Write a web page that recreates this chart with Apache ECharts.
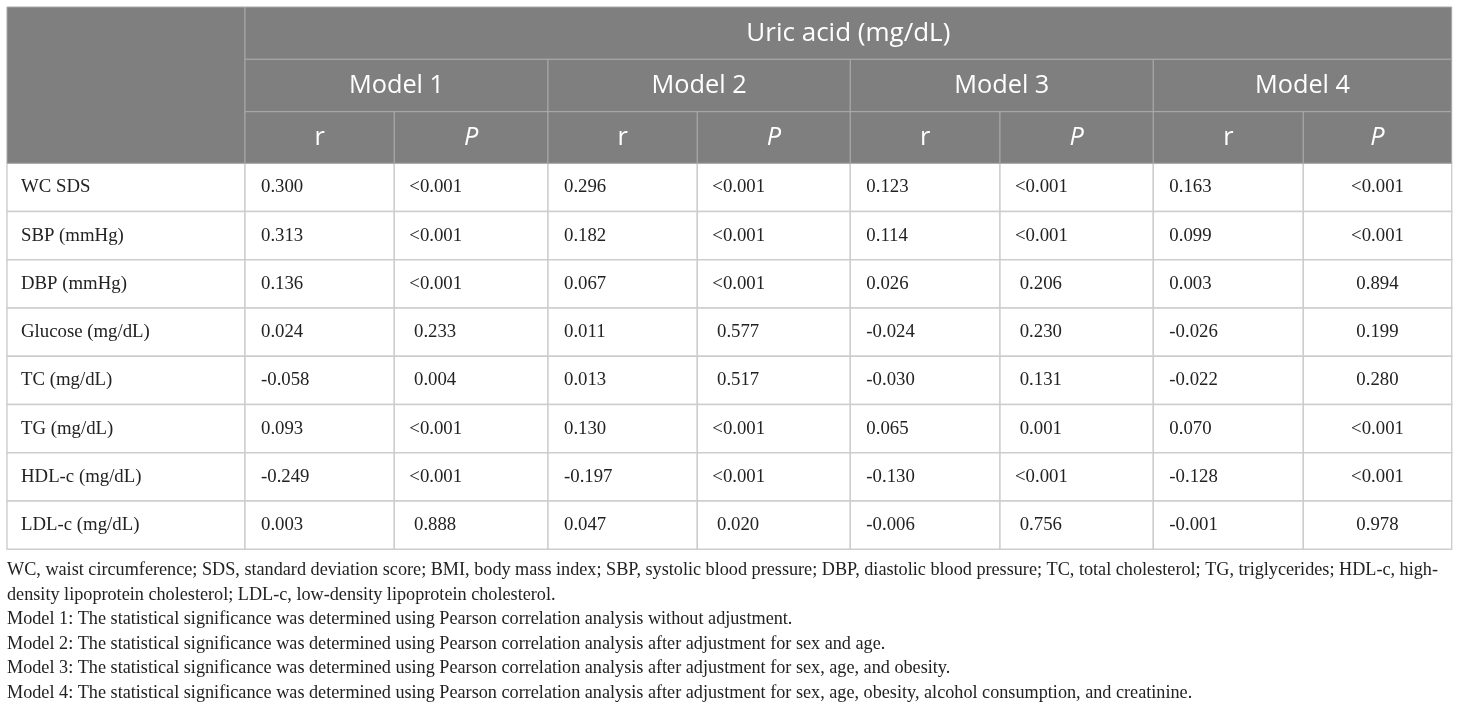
<!DOCTYPE html>
<html>
<head>
<meta charset="utf-8">
<script src="https://cdn.jsdelivr.net/npm/echarts@6/dist/echarts.min.js"></script>
<style>
  html, body { margin: 0; padding: 0; background: #fff; }
  #main { width: 1460px; height: 711px; }
</style>
</head>
<body>
<div id="main"></div>
<script>
// table content
var groupTitle = 'Uric acid (mg/dL)';
var models = ['Model 1', 'Model 2', 'Model 3', 'Model 4'];
var subHeads = ['r', 'P'];
var rowLabels = ['WC SDS', 'SBP (mmHg)', 'DBP (mmHg)', 'Glucose (mg/dL)', 'TC (mg/dL)',
                 'TG (mg/dL)', 'HDL-c (mg/dL)', 'LDL-c (mg/dL)'];
var model1R = [0.300, 0.313, 0.136, 0.024, -0.058, 0.093, -0.249, 0.003];
var model1P = ['<0.001', '<0.001', '<0.001', '0.233', '0.004', '<0.001', '<0.001', '0.888'];
var model2R = [0.296, 0.182, 0.067, 0.011, 0.013, 0.130, -0.197, 0.047];
var model2P = ['<0.001', '<0.001', '<0.001', '0.577', '0.517', '<0.001', '<0.001', '0.020'];
var model3R = [0.123, 0.114, 0.026, -0.024, -0.030, 0.065, -0.130, -0.006];
var model3P = ['<0.001', '<0.001', '0.206', '0.230', '0.131', '0.001', '<0.001', '0.756'];
var model4R = [0.163, 0.099, 0.003, -0.026, -0.022, 0.070, -0.128, -0.001];
var model4P = ['<0.001', '<0.001', '0.894', '0.199', '0.280', '<0.001', '<0.001', '0.978'];
var footnotes = [
  'WC, waist circumference; SDS, standard deviation score; BMI, body mass index; SBP, systolic blood pressure; DBP, diastolic blood pressure; TC, total cholesterol; TG, triglycerides; HDL-c, high-',
  'density lipoprotein cholesterol; LDL-c, low-density lipoprotein cholesterol.',
  'Model 1: The statistical significance was determined using Pearson correlation analysis without adjustment.',
  'Model 2: The statistical significance was determined using Pearson correlation analysis after adjustment for sex and age.',
  'Model 3: The statistical significance was determined using Pearson correlation analysis after adjustment for sex, age, and obesity.',
  'Model 4: The statistical significance was determined using Pearson correlation analysis after adjustment for sex, age, obesity, alcohol consumption, and creatinine.'
];

var modelR = [model1R, model2R, model3R, model4R];
var modelP = [model1P, model2P, model3P, model4P];

// layout: column widths and row heights (table units = px)
var colWidths = [238, 149.3, 153.7, 149.3, 153, 149.7, 153.3, 150, 148.4];
var headHeights = [52.3, 52.4, 51.6];
var bodyRowHeight = 48.25;

var xEdges = [0];
colWidths.forEach(function (w, i) { xEdges.push(xEdges[i] + w); });
var yEdges = [0];
headHeights.forEach(function (h, i) { yEdges.push(yEdges[i] + h); });
rowLabels.forEach(function () { yEdges.push(yEdges[yEdges.length - 1] + bodyRowHeight); });
var tableW = xEdges[xEdges.length - 1];
var tableH = yEdges[yEdges.length - 1];

// build the cells: c0,c1 column edges, r0,r1 row edges
var cells = [];
rowLabels.forEach(function (lab, i) {
  var r = 3 + i;
  cells.push({ c0: 0, c1: 1, r0: r, r1: r + 1, text: lab, kind: 'body', align: 'left', pad: 14 });
  for (var m = 0; m < models.length; m++) {
    cells.push({ c0: 1 + m * 2, c1: 2 + m * 2, r0: r, r1: r + 1,
      text: modelR[m][i].toFixed(3), kind: 'body', align: 'left', pad: 16 });
    var p = modelP[m][i];
    if (m < 3) {
      cells.push({ c0: 2 + m * 2, c1: 3 + m * 2, r0: r, r1: r + 1,
        text: (p.charAt(0) === '<' ? '' : ' ') + p, kind: 'body', align: 'left', pad: 15 });
    } else {
      cells.push({ c0: 2 + m * 2, c1: 3 + m * 2, r0: r, r1: r + 1,
        text: p, kind: 'body', align: 'center', pad: 0 });
    }
  }
});
cells.push({ c0: 0, c1: 1, r0: 0, r1: 3, text: '', kind: 'head', align: 'center' });
cells.push({ c0: 1, c1: 9, r0: 0, r1: 1, text: groupTitle, kind: 'head', align: 'center', size: 26 });
models.forEach(function (m, k) {
  cells.push({ c0: 1 + k * 2, c1: 3 + k * 2, r0: 1, r1: 2, text: m, kind: 'head', align: 'center' });
  subHeads.forEach(function (s, j) {
    cells.push({ c0: 1 + k * 2 + j, c1: 2 + k * 2 + j, r0: 2, r1: 3, text: s, kind: 'head',
      align: 'center', italic: s === 'P' });
  });
});

var cellData = cells.map(function (c) {
  return [xEdges[c.c0], yEdges[c.r0], xEdges[c.c1], yEdges[c.r1]];
});

function renderCell(params, api) {
  var c = cells[params.dataIndex];
  var a = api.coord([api.value(0), api.value(1)]);
  var b = api.coord([api.value(2), api.value(3)]);
  var head = c.kind === 'head';
  var tx = c.align === 'center' ? (a[0] + b[0]) / 2 : a[0] + c.pad;
  return {
    type: 'group',
    children: [{
      type: 'rect',
      shape: { x: a[0], y: a[1], width: b[0] - a[0], height: b[1] - a[1] },
      style: { fill: head ? '#7f7f7f' : '#ffffff', stroke: head ? '#a9a9a9' : '#cdcdcd', lineWidth: head ? 1 : 1.4 }
    }, {
      type: 'text',
      style: {
        x: tx, y: (a[1] + b[1]) / 2,
        text: c.text,
        align: c.align, verticalAlign: 'middle',
        fill: head ? '#ffffff' : '#222222',
        fontFamily: head ? 'Open Sans' : 'Liberation Serif',
        fontSize: c.size || (head ? 25.3 : 18.8),
        fontStyle: c.italic ? 'italic' : 'normal'
      }
    }]
  };
}

var chart = echarts.init(document.getElementById('main'), null, { renderer: 'canvas' });
chart.setOption({
  animation: false,
  backgroundColor: '#ffffff',
  title: {
    text: footnotes.join('\n'),
    left: 7, top: 558, padding: 0,
    textStyle: { fontFamily: 'Liberation Serif', fontSize: 18.2, fontWeight: 'normal', color: '#222222', lineHeight: 24.5 }
  },
  grid: { left: 7, top: 7, width: tableW, height: tableH },
  xAxis: { type: 'value', min: 0, max: tableW, show: false },
  yAxis: { type: 'value', min: 0, max: tableH, inverse: true, show: false },
  series: [{
    type: 'custom',
    renderItem: renderCell,
    data: cellData,
    encode: { x: [0, 2], y: [1, 3] },
    silent: true
  }]
});
</script>
</body>
</html>
